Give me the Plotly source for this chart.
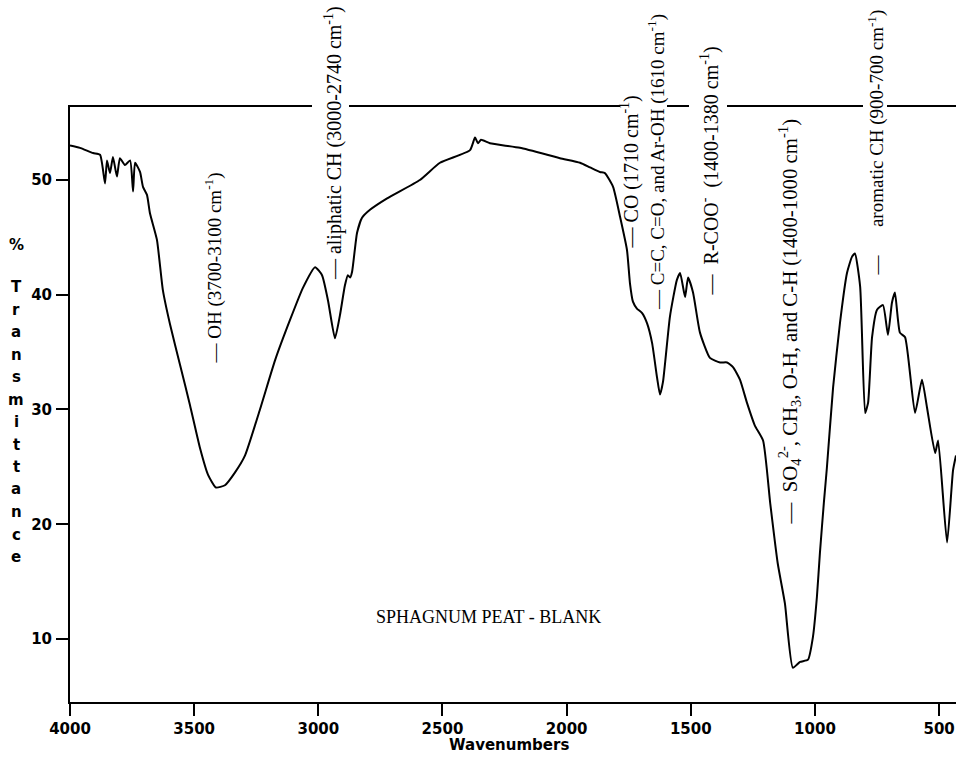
import plotly.graph_objects as go

# ---- spectrum data (wavenumber, %T) ----
wavenumber = [4000, 3960, 3907, 3879, 3859, 3851, 3839, 3827, 3811, 3799, 3779, 3758, 3746, 3738,
              3718, 3706, 3690, 3678, 3650, 3626, 3597, 3557, 3517, 3476, 3444, 3412, 3376, 3336,
              3295, 3235, 3174, 3114, 3062, 3013, 2985, 2961, 2933, 2913, 2893, 2881, 2872, 2864,
              2844, 2824, 2792, 2723, 2591, 2510, 2389, 2369, 2357, 2345, 2309, 2188, 2027, 1946, 1906,
              1866, 1846, 1813, 1785, 1757, 1745, 1733, 1717, 1696, 1676, 1656, 1636, 1624, 1612,
              1584, 1556, 1543, 1523, 1511, 1491, 1463, 1423, 1382, 1354, 1330, 1302, 1274, 1242,
              1209, 1180, 1150, 1121, 1089, 1060, 1028, 1008, 992, 980, 964, 952, 927, 899, 871,
              851, 839, 818, 798, 786, 770, 750, 726, 706, 690, 678, 658, 637, 597, 569, 549, 516,
              504, 468, 444, 432]
transmittance = [53.0, 52.8, 52.35, 52.2, 49.7, 51.7, 50.6, 52.0, 50.3, 51.9, 51.3, 51.7, 49.0, 51.5,
                 50.7, 49.4, 48.7, 47.1, 44.8, 40.4, 37.4, 33.9, 30.4, 26.6, 24.3, 23.2, 23.4, 24.5,
                 26.0, 30.0, 34.3, 37.8, 40.6, 42.4, 41.7, 39.5, 36.2, 38.2, 40.8, 41.7, 41.5, 42.0,
                 45.4, 46.7, 47.4, 48.4, 50.0, 51.5, 52.6, 53.7, 53.2, 53.5, 53.2, 52.8, 51.9, 51.5, 51.1,
                 50.7, 50.6, 49.4, 46.8, 43.9, 41.0, 39.4, 38.8, 38.4, 37.5, 35.8, 32.8, 31.3, 32.4,
                 38.1, 41.3, 41.9, 39.8, 41.5, 40.2, 36.7, 34.5, 34.1, 34.1, 33.7, 32.6, 30.6, 28.6,
                 27.3, 21.8, 16.6, 13.1, 7.5, 8.0, 8.2, 10.2, 13.7, 17.5, 21.9, 24.9, 31.9, 37.6, 41.9,
                 43.3, 43.6, 40.7, 29.7, 30.6, 36.3, 38.7, 39.1, 36.5, 39.3, 40.2, 36.7, 36.3, 29.7,
                 32.6, 30.2, 26.2, 27.3, 18.4, 24.7, 26.0]

x_ticks = [4000, 3500, 3000, 2500, 2000, 1500, 1000, 500]
y_ticks = [10, 20, 30, 40, 50]

# ---- band labels ----
band_text = [
    "—\u00a0OH (3700-3100 cm<sup>-1</sup>)",
    "—\u00a0aliphatic CH (3000-2740 cm<sup>-1</sup>)",
    "—\u00a0CO (1710 cm<sup>-1</sup>)",
    "—\u00a0C=C, C=O, and Ar-OH (1610 cm<sup>-1</sup>)",
    "—\u00a0\u00a0R-COO<sup>-</sup>\u00a0 (1400-1380 cm<sup>-1</sup>)",
    "—\u00a0\u00a0SO<sub>4</sub><sup>2-</sup>, CH<sub>3</sub>, O-H, and C-H (1400-1000 cm<sup>-1</sup>)",
    "—\u00a0\u00a0\u00a0\u00a0\u00a0\u00a0aromatic CH (900-700 cm<sup>-1</sup>)",
]
band_x = [3424, 2941, 1745, 1636, 1423, 1101, 754]
band_y = [33.8, 41.1, 43.9, 38.5, 39.8, 19.8, 41.5]
band_size = [19, 20, 20, 19, 20, 20.8, 19]

# gaps in the top frame line where the labels cross it (centre in wavenumbers, width in px)
gap_x = [2949, 1690, 1431, 758]
gap_w = [37, 47, 38, 24]

sample_name = "SPHAGNUM PEAT - BLANK"
sample_x, sample_y = 2313, 11.9

y_title = "% Transmittance"
x_title = "Wavenumbers"

fig = go.Figure()
fig.add_trace(go.Scatter(x=wavenumber, y=transmittance, mode="lines",
                         line=dict(color="black", width=2, shape="spline", smoothing=0.5),
                         hoverinfo="skip"))

serif = "Liberation Serif"
sans = "DejaVu Sans"

for gx, gw in zip(gap_x, gap_w):
    fig.add_annotation(x=gx, y=1, yref="paper", text="\u00a0", showarrow=False,
                       width=gw, height=6, bgcolor="white", borderpad=0, borderwidth=0,
                       xanchor="center", yanchor="middle", font=dict(size=4))

for t, x, y, s in zip(band_text, band_x, band_y, band_size):
    fig.add_annotation(x=x, y=y, text=t, textangle=-90, showarrow=False,
                       xanchor="center", yanchor="bottom",
                       font=dict(family=serif, size=s, color="black"))

fig.add_annotation(x=sample_x, y=sample_y, text=sample_name, showarrow=False,
                   font=dict(family=serif, size=18, color="black"))

# stacked y title letters
letters = [c for c in y_title]
positions = [245.0, None] + [287.0 + 22.5 * i for i in range(13)]
for c, py in zip(letters, positions):
    if c == " " or py is None:
        continue
    fig.add_annotation(xref="paper", yref="paper", x=(16 - 70) / 886, y=(702 - py) / 595,
                       text=c, showarrow=False, xanchor="center", yanchor="middle",
                       font=dict(family=sans, size=15, color="black", weight="bold"))

fig.add_annotation(xref="paper", yref="paper", x=(509 - 70) / 886, y=(702 - 745) / 595,
                   text=x_title, showarrow=False, xanchor="center", yanchor="middle",
                   font=dict(family=sans, size=15, color="black", weight="bold"))

fig.update_xaxes(range=[4000, 432], tickvals=x_ticks, ticks="outside", ticklen=12, tickwidth=2,
                 tickcolor="black", showline=True, linecolor="black", linewidth=2, mirror=True,
                 showgrid=False, zeroline=False,
                 tickfont=dict(family=sans, size=15, color="black", weight="bold"))
fig.update_yaxes(range=[4.51, 56.36], tickvals=y_ticks, ticks="outside", ticklen=12, tickwidth=2,
                 tickcolor="black", showline=True, linecolor="black", linewidth=2,
                 showgrid=False, zeroline=False, ticklabelstandoff=1,
                 tickfont=dict(family=sans, size=15, color="black", weight="bold"))

fig.update_layout(width=956, height=761, margin=dict(l=70, r=0, t=107, b=59),
                  paper_bgcolor="white", plot_bgcolor="white", showlegend=False)

fig.write_html("out.html", config={"displayModeBar": False},
               post_script="document.body.style.margin='0';")
